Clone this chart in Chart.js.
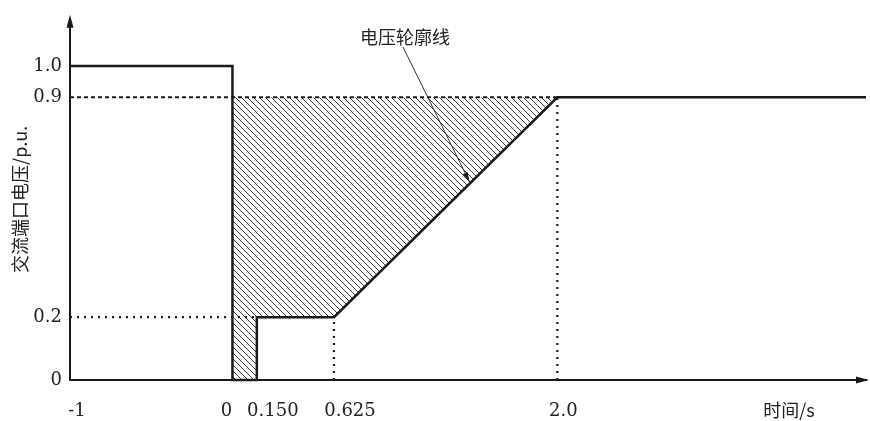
<!DOCTYPE html>
<html><head><meta charset="utf-8">
<script src="https://cdn.jsdelivr.net/npm/chart.js@4.4.1/dist/chart.umd.min.js"></script>
<style>html,body{margin:0;padding:0;background:#fff}#wrap{width:870px;height:421px}</style>
</head><body><div id="wrap"><canvas id="c"></canvas></div>
<script>
// ---- data ----
const timeTicks = [-1, 0, 0.150, 0.625, 2.0];
const timeTickLabels = ['-1', '0', '0.150', '0.625', '2.0'];
const voltageTicks = [0, 0.2, 0.9, 1.0];
const voltageTickLabels = ['0', '0.2', '0.9', '1.0'];
const profileTime = [-1, 0, 0, 0.150, 0.150, 0.625, 2.0, 3.9];
const profileVoltage = [1.0, 1.0, 0, 0, 0.2, 0.2, 0.9, 0.9];
const regionTime = [0, 0, 2.0, 0.625, 0.150, 0.150, 0];
const regionVoltage = [0, 0.9, 0.9, 0.2, 0.2, 0, 0];
const ref09Time = [-1, 2.0];
const ref09Voltage = [0.9, 0.9];
const ref02Time = [-1, 0.150];
const ref02Voltage = [0.2, 0.2];
const drop0625Time = [0.625, 0.625];
const drop0625Voltage = [0, 0.2];
const drop2Time = [2.0, 2.0];
const drop2Voltage = [0, 0.9];
const leaderTime = [1.05, 1.46];
const leaderVoltage = [1.06, 0.63];
const annotationText = '电压轮廓线';
const xTitle = '时间/s';
const yTitle = '交流端口电压/p.u.';

const pts = (xs, ys) => xs.map((x, i) => ({x, y: ys[i]}));

const canvas = document.getElementById('c');
const ctx0 = canvas.getContext('2d');
function makeHatch() {
  const s = 6;
  const c = document.createElement('canvas');
  c.width = s; c.height = s;
  const g = c.getContext('2d');
  g.strokeStyle = '#3a3a3a';
  g.lineWidth = 1;
  g.beginPath();
  g.moveTo(0, 0); g.lineTo(s, s);
  g.moveTo(-1, s - 1); g.lineTo(1, s + 1);
  g.moveTo(s - 1, -1); g.lineTo(s + 1, 1);
  g.stroke();
  return ctx0.createPattern(c, 'repeat');
}
const hatch = makeHatch();

const ink = '#1a1a1a';
const numFont = "'DejaVu Serif', serif";
const cjkFont = "'Noto Sans CJK SC', sans-serif";

const decor = {
  id: 'decor',
  afterDraw(chart) {
    const ctx = chart.ctx;
    const xs = chart.scales.x, ys = chart.scales.y;
    const area = chart.chartArea;
    ctx.save();
    // x tick labels
    const nudge = [7, -6, 16, 16, 6];
    ctx.font = '18px ' + numFont;
    ctx.fillStyle = '#222';
    ctx.textAlign = 'center';
    ctx.textBaseline = 'middle';
    timeTicks.forEach((v, i) => {
      ctx.fillText(timeTickLabels[i], xs.getPixelForValue(v) + nudge[i], area.bottom + 31);
    });
    // x title
    ctx.font = '18px ' + cjkFont;
    ctx.fillText(xTitle, area.right - 77, area.bottom + 30);
    // axis arrows
    ctx.fillStyle = ink;
    ctx.beginPath();
    ctx.moveTo(area.left, area.top - 4);
    ctx.lineTo(area.left - 3.5, area.top + 9);
    ctx.lineTo(area.left + 3.5, area.top + 9);
    ctx.closePath(); ctx.fill();
    ctx.beginPath();
    ctx.moveTo(area.right + 3, area.bottom);
    ctx.lineTo(area.right - 10, area.bottom - 3.5);
    ctx.lineTo(area.right - 10, area.bottom + 3.5);
    ctx.closePath(); ctx.fill();
    // leader arrowhead
    const x1 = xs.getPixelForValue(leaderTime[0]), y1 = ys.getPixelForValue(leaderVoltage[0]);
    const x2 = xs.getPixelForValue(leaderTime[1]), y2 = ys.getPixelForValue(leaderVoltage[1]);
    const a = Math.atan2(y2 - y1, x2 - x1);
    ctx.translate(x2, y2); ctx.rotate(a);
    ctx.beginPath();
    ctx.moveTo(0, 0); ctx.lineTo(-10, -2.6); ctx.lineTo(-10, 2.6); ctx.closePath();
    ctx.fill();
    ctx.setTransform(1, 0, 0, 1, 0, 0);
    // annotation
    ctx.font = '18px ' + cjkFont;
    ctx.fillStyle = '#222';
    ctx.textAlign = 'center';
    ctx.textBaseline = 'middle';
    ctx.fillText(annotationText, x1 + 2, y1 - 10);
    ctx.restore();
  }
};

new Chart(canvas, {
  type: 'line',
  data: {
    datasets: [
      {data: pts(profileTime, profileVoltage), borderColor: ink, borderWidth: 2.5, pointRadius: 0, fill: false, order: 0, clip: false, borderJoinStyle: 'miter'},
      {data: pts(leaderTime, leaderVoltage), borderColor: '#333', borderWidth: 1, pointRadius: 0, fill: false, order: 1, clip: false},
      {data: pts(ref09Time, ref09Voltage), borderColor: ink, borderWidth: 2, borderDash: [4, 3], pointRadius: 0, fill: false, order: 2},
      {data: pts(ref02Time, ref02Voltage), borderColor: ink, borderWidth: 2.2, borderDash: [2, 5], pointRadius: 0, fill: false, order: 3},
      {data: pts(drop0625Time, drop0625Voltage), borderColor: ink, borderWidth: 2.2, borderDash: [2, 5], pointRadius: 0, fill: false, order: 4},
      {data: pts(drop2Time, drop2Voltage), borderColor: ink, borderWidth: 2.2, borderDash: [2, 5], pointRadius: 0, fill: false, order: 5},
      {data: pts(regionTime, regionVoltage), borderWidth: 0, borderColor: 'rgba(0,0,0,0)', backgroundColor: hatch, pointRadius: 0, fill: 'shape', order: 10}
    ]
  },
  options: {
    responsive: true,
    maintainAspectRatio: false,
    animation: false,
    devicePixelRatio: 1,
    layout: {padding: {top: 13, right: 4, left: 0, bottom: 0}},
    plugins: {legend: {display: false}, tooltip: {enabled: false}},
    scales: {
      x: {
        type: 'linear', min: -1, max: 3.9,
        afterBuildTicks: s => { s.ticks = timeTicks.map(v => ({value: v})); },
        afterFit: s => { s.height = 41; },
        ticks: {display: false},
        grid: {display: false, drawTicks: false},
        border: {display: true, color: ink, width: 2}
      },
      y: {
        type: 'linear', min: 0, max: 1.15,
        afterBuildTicks: s => { s.ticks = voltageTicks.map(v => ({value: v})); },
        afterFit: s => { s.width = 70; },
        ticks: {
          autoSkip: false, padding: 8, color: '#222',
          font: {family: numFont, size: 18},
          callback: v => voltageTickLabels[voltageTicks.indexOf(v)]
        },
        grid: {display: false, drawTicks: false},
        border: {display: true, color: ink, width: 2},
        title: {display: true, text: yTitle, color: '#222', font: {family: cjkFont, size: 18}, padding: {top: 9, bottom: 0}}
      }
    }
  },
  plugins: [decor]
});
</script>
</body></html>
